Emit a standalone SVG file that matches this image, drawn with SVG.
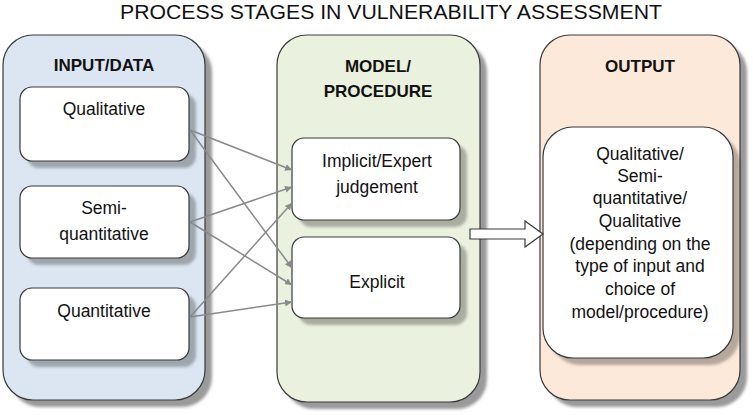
<svg xmlns="http://www.w3.org/2000/svg" width="753" height="415" viewBox="0 0 753 415">
<style>
.title{font-family:"Liberation Sans",Arial,sans-serif;font-size:20px;fill:#111}
.head{font-family:"Liberation Sans",Arial,sans-serif;font-size:17px;font-weight:bold;fill:#111;text-anchor:middle}
.txt{font-family:"Liberation Sans",Arial,sans-serif;font-size:17.5px;fill:#111;text-anchor:middle}
.cont{stroke:#3a3a3a;stroke-width:1.2}
.box{fill:#fff;stroke:#3a3a3a;stroke-width:1.2}
.shc{fill:#9a9a9a;filter:url(#blur)}
.shb{fill:#000;opacity:0.28;filter:url(#blur)}
.conn{stroke:#8a8a8a;stroke-width:1.5;fill:none;marker-end:url(#ah)}
</style>
<defs>
<filter id="blur" x="-10%" y="-10%" width="120%" height="120%"><feGaussianBlur stdDeviation="1.5"/></filter>
<marker id="ah" viewBox="0 0 10 10" refX="10" refY="5" markerWidth="7" markerHeight="7" markerUnits="userSpaceOnUse" orient="auto"><path d="M0,0 L10,5 L0,10 Z" fill="#8a8a8a"/></marker>
</defs>
<rect width="753" height="415" fill="#fff"/>
<text class="title" x="120" y="19" textLength="542" lengthAdjust="spacingAndGlyphs">PROCESS STAGES IN VULNERABILITY ASSESSMENT</text>

<g id="input-data">
<rect class="shc" x="10" y="42" width="202" height="365" rx="30"/>
<rect class="cont" x="3" y="35" width="202" height="365" rx="30" fill="#dce6f2"/>
<text class="head" x="104" y="71">INPUT/DATA</text>
</g>
<g id="model-procedure">
<rect class="shc" x="284" y="42" width="203" height="367" rx="30"/>
<rect class="cont" x="277" y="35" width="203" height="367" rx="30" fill="#ebf1df"/>
<text class="head" x="378" y="72">MODEL/</text>
<text class="head" x="378" y="97">PROCEDURE</text>
</g>
<g id="output">
<rect class="shc" x="547" y="42" width="200" height="365" rx="30"/>
<rect class="cont" x="540" y="35" width="200" height="365" rx="30" fill="#fde9da"/>
<text class="head" x="640" y="72">OUTPUT</text>
</g>

<g id="qualitative">
<rect class="shb" x="27" y="94" width="169" height="74" rx="12"/>
<rect class="box" x="20" y="87" width="169" height="74" rx="12"/>
<text class="txt" x="104" y="115">Qualitative</text>
</g>
<g id="semi-quantitative">
<rect class="shb" x="27" y="193" width="169" height="72" rx="12"/>
<rect class="box" x="20" y="186" width="169" height="72" rx="12"/>
<text class="txt" x="104" y="214">Semi-</text>
<text class="txt" x="104" y="240">quantitative</text>
</g>
<g id="quantitative">
<rect class="shb" x="27" y="295" width="169" height="72" rx="12"/>
<rect class="box" x="20" y="288" width="169" height="72" rx="12"/>
<text class="txt" x="104" y="317">Quantitative</text>
</g>
<g id="implicit">
<rect class="shb" x="299" y="145" width="168" height="82" rx="12"/>
<rect class="box" x="292" y="138" width="168" height="82" rx="12"/>
<text class="txt" x="377" y="167">Implicit/Expert</text>
<text class="txt" x="377" y="193">judgement</text>
</g>
<g id="explicit">
<rect class="shb" x="299" y="244" width="168" height="81" rx="12"/>
<rect class="box" x="292" y="237" width="168" height="81" rx="12"/>
<text class="txt" x="377" y="288">Explicit</text>
</g>
<g id="output-result">
<rect class="shb" x="550" y="134" width="190" height="231" rx="30"/>
<rect class="box" x="543" y="127" width="190" height="231" rx="30"/>
<text class="txt" x="640" y="160">Qualitative/</text>
<text class="txt" x="640" y="182">Semi-</text>
<text class="txt" x="640" y="204">quantitative/</text>
<text class="txt" x="640" y="227">Qualitative</text>
<text class="txt" x="640" y="250">(depending on the</text>
<text class="txt" x="640" y="272">type of input and</text>
<text class="txt" x="640" y="295">choice of</text>
<text class="txt" x="640" y="318">model/procedure)</text>
</g>

<g id="connectors">
<path class="conn" d="M190,130 L292,170"/>
<path class="conn" d="M190,130 L292,268"/>
<path class="conn" d="M190,222 L292,187"/>
<path class="conn" d="M190,222 L292,285"/>
<path class="conn" d="M190,317 L292,203"/>
<path class="conn" d="M190,317 L292,302"/>
<path d="M470,229 H525 V221 L543,234 L525,247 V239 H470 Z" fill="#fff" stroke="#3a3a3a" stroke-width="1.2"/>
</g>
</svg>
